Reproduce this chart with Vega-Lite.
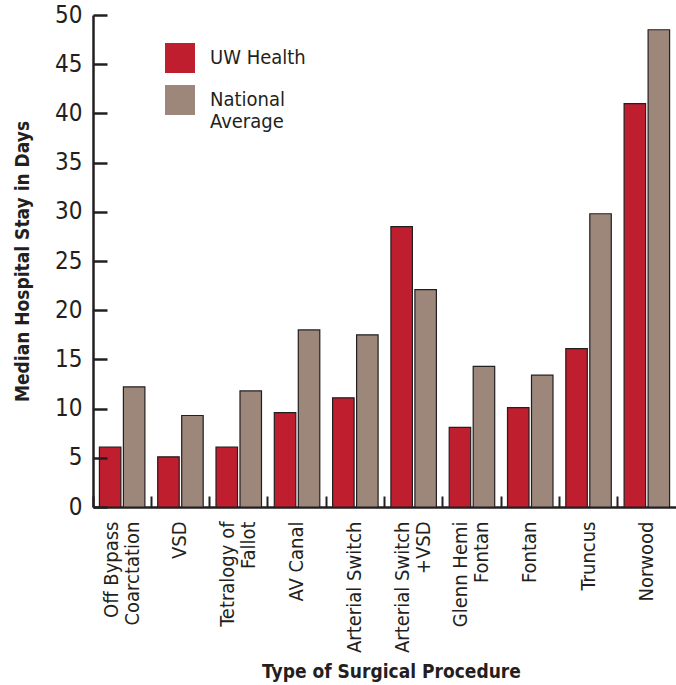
{
  "$schema": "https://vega.github.io/schema/vega-lite/v6.json",
  "width": 583,
  "height": 492,
  "autosize": {"type": "none"},
  "padding": {"left": 93, "top": 15, "right": 0, "bottom": 178},
  "background": "white",
  "config": {
    "view": {"stroke": null},
    "font": "DejaVu Sans Condensed, sans-serif"
  },
  "data": {
    "values": [
      {"procedure": "Off Bypass|Coarctation", "group": "UW Health", "value": 6.1},
      {"procedure": "Off Bypass|Coarctation", "group": "National Average", "value": 12.2},
      {"procedure": "VSD", "group": "UW Health", "value": 5.1},
      {"procedure": "VSD", "group": "National Average", "value": 9.3},
      {"procedure": "Tetralogy of|Fallot", "group": "UW Health", "value": 6.1},
      {"procedure": "Tetralogy of|Fallot", "group": "National Average", "value": 11.8},
      {"procedure": "AV Canal", "group": "UW Health", "value": 9.6},
      {"procedure": "AV Canal", "group": "National Average", "value": 18.0},
      {"procedure": "Arterial Switch", "group": "UW Health", "value": 11.1},
      {"procedure": "Arterial Switch", "group": "National Average", "value": 17.5},
      {"procedure": "Arterial Switch|+VSD", "group": "UW Health", "value": 28.5},
      {"procedure": "Arterial Switch|+VSD", "group": "National Average", "value": 22.1},
      {"procedure": "Glenn Hemi|Fontan", "group": "UW Health", "value": 8.1},
      {"procedure": "Glenn Hemi|Fontan", "group": "National Average", "value": 14.3},
      {"procedure": "Fontan", "group": "UW Health", "value": 10.1},
      {"procedure": "Fontan", "group": "National Average", "value": 13.4},
      {"procedure": "Truncus", "group": "UW Health", "value": 16.1},
      {"procedure": "Truncus", "group": "National Average", "value": 29.8},
      {"procedure": "Norwood", "group": "UW Health", "value": 41.0},
      {"procedure": "Norwood", "group": "National Average", "value": 48.5}
    ]
  },
  "layer": [
    {
      "mark": {"type": "bar", "stroke": "#231F20", "strokeWidth": 1.2, "clip": true},
      "encoding": {
        "x": {
          "field": "procedure",
          "type": "nominal",
          "sort": null,
          "scale": {"paddingInner": 0, "paddingOuter": 0},
          "axis": {
            "orient": "bottom",
            "title": "Type of Surgical Procedure",
            "titleFontSize": 19,
            "titleFontWeight": "bold",
            "titleColor": "#231F20",
            "titleX": 298,
            "titleY": 170,
            "titleBaseline": "alphabetic",
            "labelAngle": -90,
            "labelAlign": "right",
            "labelBaseline": "middle",
            "labelFontSize": 20,
            "labelColor": "#231F20",
            "labelPadding": 14,
            "labelLineHeight": 21,
            "labelExpr": "split(datum.label, '|')",
            "labelOffset": {"condition": {"test": "indexof(datum.value, '|') >= 0", "value": -10.5}, "value": 0},
            "ticks": false,
            "domainColor": "#231F20",
            "domainWidth": 2.5
          }
        },
        "xOffset": {
          "field": "group",
          "type": "nominal",
          "sort": ["UW Health", "National Average"],
          "scale": {"paddingInner": 0.104, "paddingOuter": 0.267}
        },
        "y": {
          "field": "value",
          "type": "quantitative",
          "scale": {"domain": [0, 50], "nice": false},
          "axis": {
            "orient": "left",
            "title": "Median Hospital Stay in Days",
            "titleFontSize": 19,
            "titleFontWeight": "bold",
            "titleColor": "#231F20",
            "titlePadding": 22,
            "values": [0, 5, 10, 15, 20, 25, 30, 35, 40, 45, 50],
            "grid": false,
            "labelFontSize": 24,
            "labelColor": "#231F20",
            "labelPadding": 11,
            "ticks": false,
            "domainColor": "#231F20",
            "domainWidth": 2.5
          }
        },
        "color": {
          "field": "group",
          "type": "nominal",
          "scale": {"domain": ["UW Health", "National Average"], "range": ["#BE1E2D", "#9C877A"]},
          "legend": {
            "title": null,
            "orient": "none",
            "legendX": 72,
            "legendY": 28,
            "symbolType": "square",
            "symbolSize": 900,
            "symbolStrokeWidth": 0,
            "labelFontSize": 20,
            "labelColor": "#231F20",
            "labelOffset": 15,
            "rowPadding": 12,
            "labelLimit": 200,
            "labelExpr": "datum.label == 'National Average' ? ['National', 'Average'] : datum.label"
          }
        }
      }
    },
    {
      "mark": {"type": "bar", "opacity": 0},
      "encoding": {
        "x": {
          "field": "procedure",
          "type": "nominal",
          "sort": null,
          "axis": {
            "orient": "bottom",
            "title": null,
            "labels": false,
            "domain": false,
            "grid": false,
            "bandPosition": 0,
            "offset": -11,
            "tickSize": 11,
            "tickWidth": 2,
            "tickColor": "#231F20",
            "zindex": 1
          }
        },
        "y": {
          "field": "value",
          "type": "quantitative",
          "axis": {
            "orient": "left",
            "title": null,
            "labels": false,
            "domain": false,
            "grid": false,
            "values": [0, 5, 10, 15, 20, 25, 30, 35, 40, 45, 50],
            "offset": -14,
            "tickSize": 14,
            "tickWidth": 2.5,
            "tickColor": "#231F20",
            "zindex": 1
          }
        }
      }
    }
  ],
  "resolve": {"axis": {"x": "independent", "y": "independent"}}
}
